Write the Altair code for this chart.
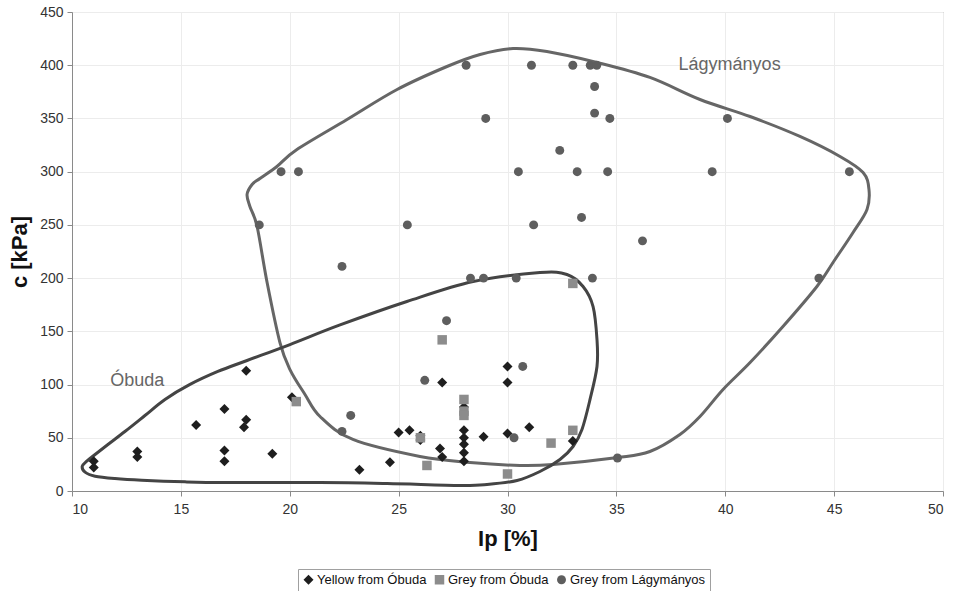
import altair as alt
import pandas as pd

# ---- data ----
yellow_obuda_x = [11, 11, 13, 13, 15.7, 17, 17, 17, 18, 18, 17.9, 19.2, 20.1, 23.2, 24.6, 25, 25.5, 26, 26,
                  27, 26.9, 27, 28, 28, 28, 28, 28, 28, 28.9, 30, 30, 30, 31, 33]
yellow_obuda_y = [28, 22, 37, 32, 62, 77, 38, 28, 113, 67, 60, 35, 88, 20, 27, 55, 57, 52, 48,
                  102, 40, 32, 79, 57, 50, 44, 36, 28, 51, 117, 102, 54, 60, 47]

grey_obuda_x = [20.3, 27, 28, 28, 28, 26, 26.3, 30, 32, 33, 33]
grey_obuda_y = [84, 142, 86, 75, 71, 50, 24, 16, 45, 57, 195]

grey_lagy_x = [18.6, 19.6, 20.4, 22.4, 22.4, 22.8, 25.4, 26.2, 27.2, 28.1, 28.3, 28.9, 29.0, 30.3, 30.4,
               30.5, 30.7, 31.1, 31.2, 32.4, 33.0, 33.2, 33.4, 33.8, 34.1, 34.0, 34.0, 34.7, 34.6, 33.9,
               35.05, 36.2, 39.4, 40.1, 44.3, 45.7]
grey_lagy_y = [250, 300, 300, 211, 56, 71, 250, 104, 160, 400, 200, 200, 350, 50, 200,
               300, 117, 400, 250, 320, 400, 300, 257, 400, 400, 380, 355, 350, 300, 200,
               31, 235, 300, 350, 200, 300]

series_names = ["Yellow from Óbuda", "Grey from Óbuda", "Grey from Lágymányos"]

# hand-drawn outlines (data coordinates)
lagy_outline_x = [18.04, 18.27, 18.63, 19.41, 20.33, 22.63, 24.93, 27.22, 28.74, 30.25, 31.81, 34.11,
                  36.54, 38.84, 41.14, 43.43, 45.27, 46.33, 46.60, 46.51, 45.87, 44.95, 44.21, 42.65,
                  41.14, 39.90, 38.84, 37.92, 36.54, 35.07, 32.09, 30.57, 28.28, 25.98, 22.90, 21.39,
                  20.70, 20.01, 19.55, 18.96, 18.50, 18.17]
lagy_outline_y = [278.6, 288.0, 293.6, 304.9, 320.8, 349.0, 377.2, 398.8, 410.1, 415.7, 412.9, 402.6,
                  388.5, 367.8, 351.8, 333.1, 314.3, 299.2, 283.3, 264.5, 242.9, 214.7, 192.1, 154.5,
                  120.7, 95.4, 70.0, 53.1, 37.1, 31.4, 24.9, 24.0, 26.8, 32.4, 48.4, 70.0,
                  90.7, 114.1, 139.5, 195.9, 248.5, 267.3]

obuda_outline_x = [10.47, 10.68, 11.06, 11.65, 12.43, 13.35, 14.27, 15.42, 16.70, 18.04, 20.01, 22.31,
                   25.38, 28.42, 31.49, 32.73, 33.47, 33.93, 34.11, 34.11, 33.79, 33.42, 33.01, 32.41,
                   31.49, 30.44, 29.06, 27.82, 24.47, 21.39, 17.12, 15.19, 13.20, 11.97, 11.06, 10.60]
obuda_outline_y = [23.3, 28.0, 34.3, 43.7, 55.9, 70.9, 86.0, 100.1, 112.3, 122.6, 137.6, 156.0,
                   178.0, 196.8, 205.3, 203.4, 192.1, 173.3, 142.3, 117.0, 86.0, 57.8, 41.8, 29.6,
                   18.3, 9.9, 6.1, 5.2, 7.0, 8.0, 8.0, 8.6, 10.1, 11.7, 13.9, 17.7]

label_text = ["Óbuda", "Lágymányos"]
label_x = [13.0, 40.2]
label_y = [103, 400]

# ---- tables ----
pts = pd.concat([
    pd.DataFrame({"Ip": yellow_obuda_x, "c": yellow_obuda_y, "series": series_names[0]}),
    pd.DataFrame({"Ip": grey_obuda_x, "c": grey_obuda_y, "series": series_names[1]}),
    pd.DataFrame({"Ip": grey_lagy_x, "c": grey_lagy_y, "series": series_names[2]}),
], ignore_index=True)

lagy = pd.DataFrame({"Ip": lagy_outline_x, "c": lagy_outline_y, "i": range(len(lagy_outline_x))})
obu = pd.DataFrame({"Ip": obuda_outline_x, "c": obuda_outline_y, "i": range(len(obuda_outline_x))})
labels = pd.DataFrame({"Ip": label_x, "c": label_y, "t": label_text})

FONT = "Liberation Sans"

xscale = alt.Scale(domain=[10, 50], nice=False, zero=False)
yscale = alt.Scale(domain=[0, 450], nice=False, zero=False)

xenc = alt.X("Ip:Q", scale=xscale,
             axis=alt.Axis(title="Ip [%]", values=list(range(10, 51, 5)), labelPadding=6,
                           titlePadding=12))
yenc = alt.Y("c:Q", scale=yscale,
             axis=alt.Axis(title="c [kPa]", values=list(range(0, 451, 50)), labelPadding=4,
                           titlePadding=8))

lagy_line = alt.Chart(lagy).mark_line(interpolate="cardinal-closed", color="#666666",
                                      strokeWidth=3).encode(x=xenc, y=yenc, order="i:Q")
obu_line = alt.Chart(obu).mark_line(interpolate="cardinal-closed", color="#444444",
                                    strokeWidth=3).encode(x=xenc, y=yenc, order="i:Q")

points = alt.Chart(pts).mark_point(filled=True, opacity=1).encode(
    x=xenc, y=yenc,
    color=alt.Color("series:N",
                    scale=alt.Scale(domain=series_names, range=["#1e1e1e", "#8c8c8c", "#5e5e5e"]),
                    legend=alt.Legend(title=None, orient="none", direction="horizontal",
                                      legendX=226, legendY=557, strokeColor="#a0a0a0",
                                      padding=4, labelFontSize=13, labelFont=FONT,
                                      labelColor="#111", columnPadding=6, symbolSize=70,
                                      labelOffset=2)),
    shape=alt.Shape("series:N",
                    scale=alt.Scale(domain=series_names, range=["diamond", "square", "circle"]),
                    legend=None),
    size=alt.Size("series:N",
                  scale=alt.Scale(domain=series_names, range=[100, 80, 130]), legend=None),
)

text = alt.Chart(labels).mark_text(font=FONT, fontSize=18, color="#666666").encode(
    x=xenc, y=yenc, text="t:N")

chart = alt.layer(lagy_line, obu_line, points, text).properties(
    width=871, height=479,
    autosize=alt.AutoSizeParams(type="none"),
    padding={"left": 72, "top": 12, "right": 11, "bottom": 100},
).configure_view(stroke="#8a8a8a", strokeWidth=1).configure_axis(
    labelFont=FONT, titleFont=FONT, labelFontSize=14, labelColor="#333333",
    titleFontSize=22, titleFontWeight="bold", titleColor="#111111",
    domainColor="#8a8a8a", tickColor="#8a8a8a", tickSize=5,
    gridColor="#ececec", gridWidth=1,
)

chart.save("out.html", embed_options={"renderer": "svg", "actions": False})
